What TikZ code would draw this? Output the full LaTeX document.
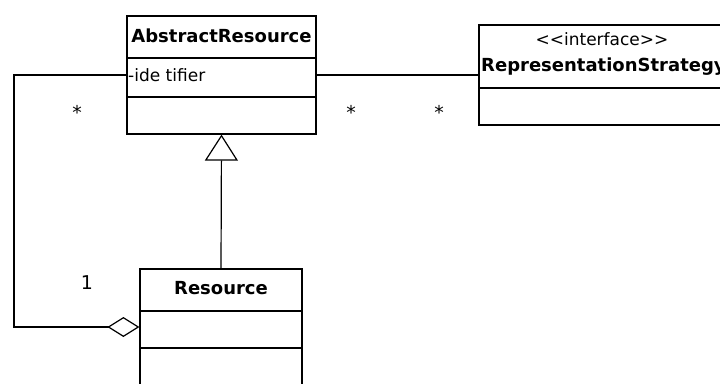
\documentclass[tikz,border=0pt]{standalone}
\usepackage{fontspec}
\setmainfont{DejaVu Sans}
\usetikzlibrary{arrows.meta}
\begin{document}
\begin{tikzpicture}[x=1pt,y=-1pt,
  umlbox/.style={draw,line width=1.2pt,minimum width=#1,inner sep=0pt,fill=white},
  edge/.style={line width=1.2pt},
  classname/.style={font=\fontsize{18}{20}\selectfont\bfseries,inner sep=0pt},
  member/.style={font=\fontsize{17}{19}\selectfont,inner sep=0pt},
  mult/.style={font=\fontsize{19}{21}\selectfont,inner sep=0pt},
  inherit/.style={edge,-{Triangle[open,length=26pt,width=33pt,fill=white]}},
  aggr/.style={edge,-{Diamond[open,length=32pt,width=20pt,fill=white]}}]
\useasboundingbox (0,0) rectangle (720,383);
\clip (0,0) rectangle (720,383);

% AbstractResource class
\node[umlbox=189pt,minimum height=118pt] (ar) at (221.5,75) {};
\draw[edge] (127,58) -- (316,58) (127,97) -- (316,97);
\node[classname] (arname) at (221.5,36) {AbstractResource};
\node[member,anchor=west] (arattr) at (128,75) {-ide tifier};

% RepresentationStrategy interface
\node[umlbox=246pt,minimum height=100pt] (rs) at (602,75) {};
\draw[edge] (479,88) -- (725,88);
\node[member] (rsstereo) at (602,39) {{<}{<}interface{>}{>}};
\node[classname,anchor=west] (rsname) at (481,67) {RepresentationStrategy};

% Resource class
\node[umlbox=162pt,minimum height=116pt] (res) at (221,327) {};
\draw[edge] (140,311) -- (302,311) (140,348) -- (302,348);
\node[classname] (resname) at (221,288) {Resource};

% connectors
\draw[inherit] (res.north) -- (ar.south);
\draw[edge] (ar.east) -- (rs.west);
\draw[aggr] (ar.west) -- (14,75) |- (res.west);

% multiplicities
\node[mult] (m1) at (77,112) {*};
\node[mult] (m2) at (351,112) {*};
\node[mult] (m3) at (439,112) {*};
\node[mult] (m4) at (87,283) {1};
\end{tikzpicture}
\end{document}
